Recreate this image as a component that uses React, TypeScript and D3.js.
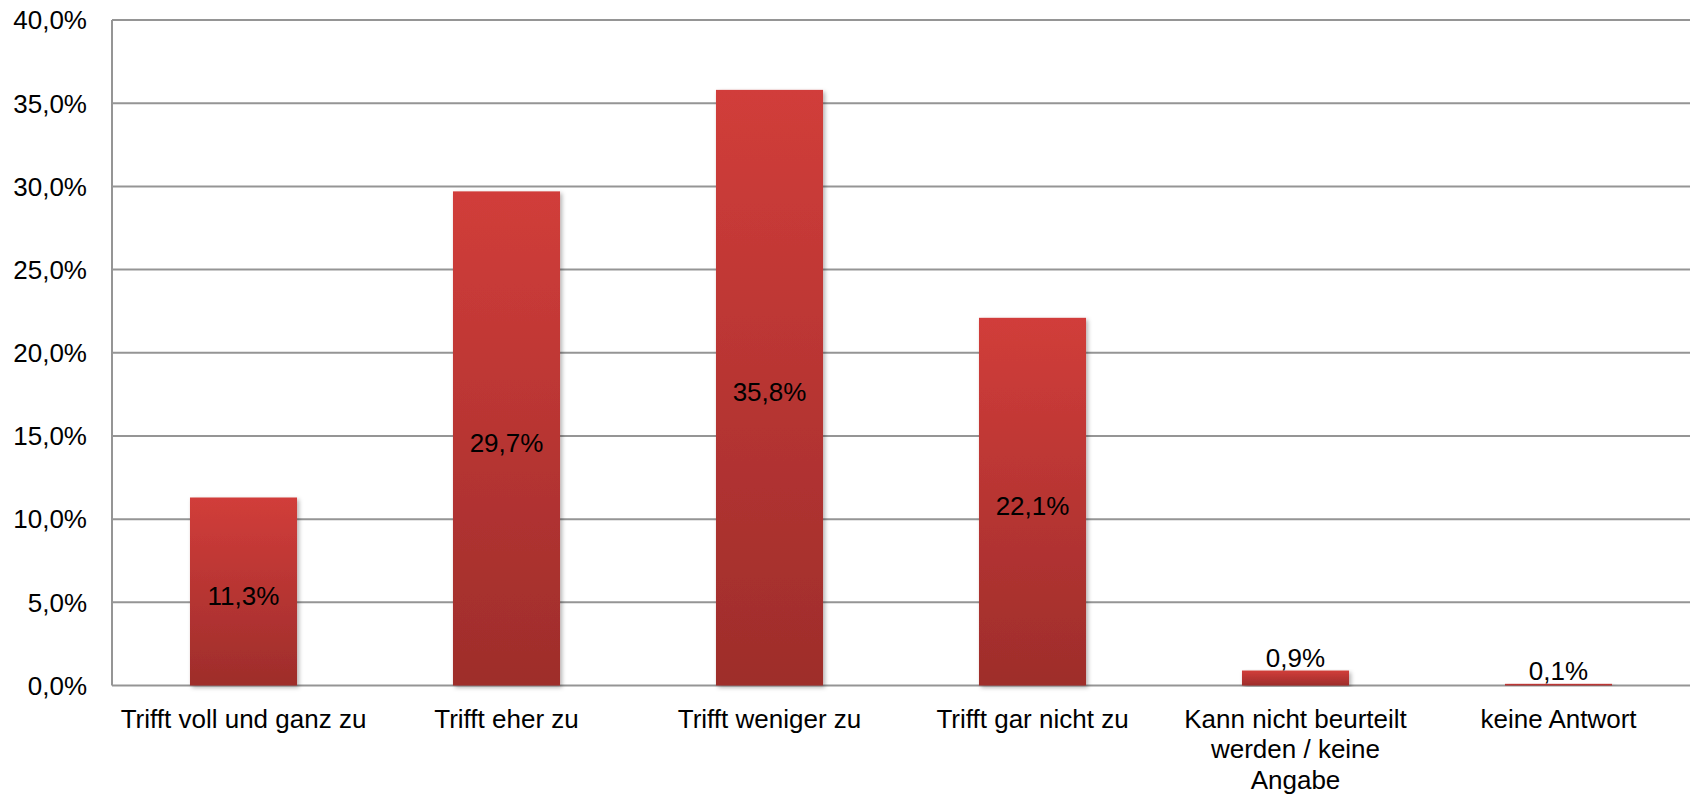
import React from "react";
import * as d3 from "d3";

const categories: string[][] = [
  ["Trifft voll und ganz zu"],
  ["Trifft eher zu"],
  ["Trifft weniger zu"],
  ["Trifft gar nicht zu"],
  ["Kann nicht beurteilt", "werden / keine", "Angabe"],
  ["keine Antwort"],
];
const values: number[] = [11.3, 29.7, 35.8, 22.1, 0.9, 0.1];
const yTicks: number[] = [0, 5, 10, 15, 20, 25, 30, 35, 40];

const W = 1690;
const H = 794;
const left = 112;
const right = 1690;
const top = 20;
const bottom = 685.5;
const FONT = "'Liberation Sans', Arial, sans-serif";
const FS = 26;

const fmt = (v: number) => v.toFixed(1).replace(".", ",") + "%";

export default function App() {
  const x = d3
    .scaleBand<number>()
    .domain(d3.range(categories.length))
    .range([left, right])
    .paddingInner(0.593)
    .paddingOuter(0.2965);
  const y = d3.scaleLinear().domain([0, 40]).range([bottom, top]);

  return (
    <svg
      width={W}
      height={H}
      style={{ position: "absolute", left: 0, top: 0, display: "block", background: "#fff" }}
    >
      <defs>
        <linearGradient id="barGrad" x1="0" y1="0" x2="0" y2="1">
          <stop offset="0%" stopColor="#d13d3a" />
          <stop offset="100%" stopColor="#9e2d2b" />
        </linearGradient>
        <filter id="shadow" x="-20%" y="-5%" width="140%" height="110%">
          <feDropShadow dx="2" dy="2" stdDeviation="2" floodColor="#000" floodOpacity="0.3" />
        </filter>
      </defs>
      {yTicks.map((t) => (
        <g key={t}>
          <line x1={left} x2={right} y1={y(t)} y2={y(t)} stroke="#959595" strokeWidth={2} />
          <text
            x={87}
            y={y(t)}
            dy="0.36em"
            textAnchor="end"
            fontFamily={FONT}
            fontSize={FS}
            fill="#000"
          >
            {fmt(t)}
          </text>
        </g>
      ))}
      <line x1={left} x2={left} y1={top} y2={bottom} stroke="#959595" strokeWidth={2} />
      {values.map((v, i) => {
        const bx = x(i)!;
        const bw = x.bandwidth();
        const by = y(v);
        const bh = bottom - by;
        const inside = bh > 40;
        return (
          <g key={i}>
            <rect
              x={bx}
              y={by}
              width={bw}
              height={Math.max(bh, 1.5)}
              fill="url(#barGrad)"
              filter="url(#shadow)"
            />
            <text
              x={bx + bw / 2}
              y={inside ? by + bh / 2 + 4 : by - 4}
              dy={inside ? "0.35em" : "0"}
              textAnchor="middle"
              fontFamily={FONT}
              fontSize={FS}
              fill="#000"
            >
              {fmt(v)}
            </text>
          </g>
        );
      })}
      {categories.map((lines, i) => (
        <text
          key={i}
          x={x(i)! + x.bandwidth() / 2}
          y={727.5}
          textAnchor="middle"
          fontFamily={FONT}
          fontSize={FS}
          fill="#000"
        >
          {lines.map((l, j) => (
            <tspan key={j} x={x(i)! + x.bandwidth() / 2} dy={j === 0 ? 0 : 30.5}>
              {l}
            </tspan>
          ))}
        </text>
      ))}
    </svg>
  );
}
